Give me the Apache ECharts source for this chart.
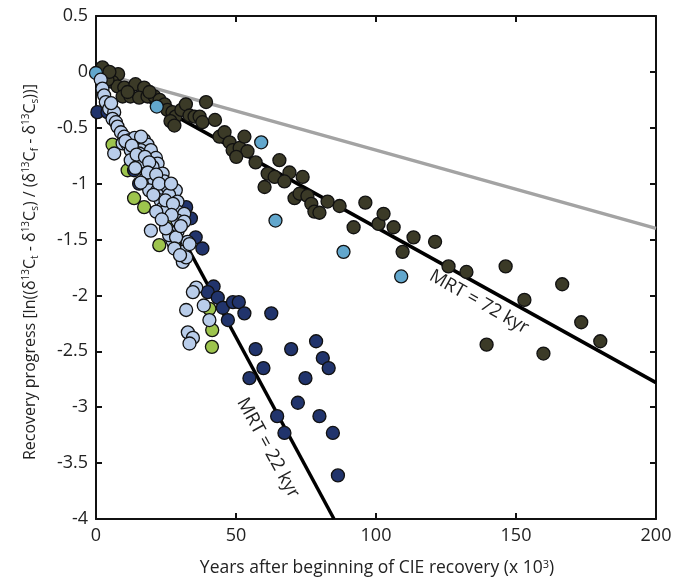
<!DOCTYPE html>
<html>
<head>
<meta charset="utf-8">
<script src="https://cdn.jsdelivr.net/npm/echarts@6/dist/echarts.min.js"></script>
<style>html,body{margin:0;padding:0;background:#fff;}#c{width:678px;height:585px;}</style>
</head>
<body>
<div id="c"></div>
<script>
// Reference lines (x in kyr, y = recovery progress)
var line143 = [[0, 0], [200, -1.40]];
var line72 = [[0, 0], [200, -2.78]];
var line22 = [[0, -0.05], [85, -4]];

// Dark olive points
var darkPts = [[2.3,0.04],[7.9,-0.02],[5.9,-0.09],[7.7,-0.13],[10.1,-0.14],[14.1,-0.11],[17.2,-0.14],
[9.5,-0.22],[12.3,-0.22],[15.4,-0.23],[18.4,-0.22],[20.9,-0.22],[22.7,-0.25],[24.5,-0.29],[25.5,-0.34],
[27.3,-0.36],[28.4,-0.40],[26.6,-0.44],[28.0,-0.48],[30.5,-0.34],[32.1,-0.29],[33.4,-0.39],[35.2,-0.40],
[37.0,-0.40],[38.0,-0.45],[39.3,-0.27],[42.5,-0.43],[44.1,-0.58],[45.9,-0.54],[47.7,-0.63],[48.8,-0.70],
[51.3,-0.68],[53.0,-0.58],[54.1,-0.71],[50.1,-0.76],[57.0,-0.81],[65.5,-0.79],[61.3,-0.91],[63.8,-0.94],
[60.2,-1.03],[69.1,-0.90],[67.3,-0.98],[73.8,-0.94],[70.9,-1.13],[72.7,-1.09],[75.5,-1.11],[76.9,-1.18],
[78.0,-1.25],[79.8,-1.26],[82.7,-1.16],[87.0,-1.20],[92.0,-1.39],[96.2,-1.17],[100.9,-1.36],[102.7,-1.27],
[106.3,-1.39],[109.5,-1.61],[113.4,-1.48],[121.1,-1.52],[125.9,-1.74],[132.3,-1.79],[146.3,-1.74],
[153.0,-2.04],[139.5,-2.44],[166.5,-1.90],[159.8,-2.52],[173.3,-2.24],[180.1,-2.41],
[4.1,-0.07],[11.3,-0.18],[19.1,-0.18],[4.8,0.0]];

// Medium blue points
var midBluePts = [[0,-0.01],[21.7,-0.31],[59.0,-0.63],[64.1,-1.33],[88.4,-1.61],[109.0,-1.83]];

// Yellow-green points
var greenPts = [[5.9,-0.65],[11.3,-0.88],[13.6,-1.13],[17.2,-1.21],[25.5,-1.37],[22.6,-1.55],[27.9,-1.54],
[40.5,-2.12],[41.5,-2.31],[41.4,-2.46]];

// Navy points
var navyPts = [[0.5,-0.36],[4.1,-0.36],[13.6,-0.88],[15.4,-1.0],[33.9,-1.31],[35.6,-1.48],[38.0,-1.58],
[32.2,-1.21],[42.0,-1.92],[39.9,-1.97],[43.5,-2.02],[45.3,-2.11],[48.9,-2.06],[51.0,-2.06],[53.0,-2.16],
[62.6,-2.16],[47.1,-2.22],[57.0,-2.48],[69.7,-2.48],[78.6,-2.41],[81.0,-2.56],[83.1,-2.65],[59.8,-2.65],
[54.8,-2.74],[74.8,-2.74],[72.1,-2.96],[64.7,-3.08],[79.8,-3.08],[67.3,-3.23],[84.6,-3.23],[86.4,-3.61]];

// Light blue points
var lightPts = [[1.7,-0.07],[2.3,-0.15],[2.9,-0.21],[3.5,-0.27],[4.7,-0.33],[6.5,-0.36],[5.9,-0.42],
[7.1,-0.45],[7.7,-0.49],[8.9,-0.54],[10.1,-0.58],[9.5,-0.64],[11.3,-0.65],[14.8,-0.59],[17.2,-0.61],
[18.4,-0.65],[13.6,-0.68],[16.0,-0.70],[19.6,-0.70],[6.5,-0.73],[12.4,-0.70],[15.4,-0.73],[21.4,-0.77],
[22.0,-0.82],[12.4,-0.79],[16.6,-0.80],[20.2,-0.85],[23.8,-0.91],[17.8,-0.95],[20.8,-0.97],[24.4,-0.98],
[19.0,-1.06],[22.0,-1.06],[25.5,-1.03],[28.5,-1.06],[23.1,-1.15],[26.1,-1.10],[29.1,-1.16],[23.8,-1.22],
[25.5,-1.22],[29.1,-1.25],[31.5,-1.27],[29.1,-1.33],[31.5,-1.34],[19.6,-1.42],[29.1,-1.43],[27.3,-1.51],
[26.1,-1.46],[32.7,-1.52],[31.0,-1.61],[31.0,-1.70],[28.6,-1.48],[32.2,-1.66],[33.4,-1.54],[35.8,-1.93],
[34.6,-1.97],[38.5,-2.09],[32.2,-2.13],[40.5,-2.22],[32.8,-2.33],[34.6,-2.38],[33.4,-2.43],
[5.4,-0.28],[12.0,-0.61],[13.8,-0.59],[16.1,-0.58],
[10.5,-0.62],[12.8,-0.66],[14.5,-0.74],[17.5,-0.76],[19.0,-0.81],[14.0,-0.86],[18.5,-0.90],[21.5,-0.92],
[16.0,-0.99],[22.5,-1.00],[26.8,-1.00],[20.5,-1.10],[24.8,-1.15],[27.5,-1.18],[21.5,-1.25],[27.0,-1.28],
[30.3,-1.38],[25.0,-1.40],[23.5,-1.32],[28.0,-1.58],[30.0,-1.64]];

var xTicks = [0, 50, 100, 150, 200];
var yTickStep = 0.5;

var FONT = '"Open Sans", "Noto Sans", sans-serif';
var chart = echarts.init(document.getElementById('c'), null, {renderer: 'canvas'});

function pts(name, data, color, z) {
  return {
    name: name, type: 'scatter', data: data, symbol: 'circle', symbolSize: 13, z: z,
    itemStyle: {color: color, borderColor: '#111', borderWidth: 1.3, opacity: 1},
    emphasis: {disabled: true}, silent: true
  };
}
function ln(data, color, width) {
  return {
    type: 'line', data: data, showSymbol: false, symbol: 'none', z: 1, silent: true,
    lineStyle: {color: color, width: width}, animation: false
  };
}
var axisCommon = {
  type: 'value',
  axisLine: {show: true, onZero: false, lineStyle: {color: '#111', width: 2}},
  axisTick: {show: true, inside: true, length: 6, lineStyle: {color: '#111', width: 2}},
  splitLine: {show: false}
};

var option = {
  animation: false,
  backgroundColor: '#fff',
  grid: {left: 96, right: 22, top: 16, bottom: 66, containLabel: false},
  xAxis: [
    Object.assign({}, axisCommon, {position: 'bottom', min: xTicks[0], max: xTicks[xTicks.length-1], interval: 50,
      axisLabel: {show: true, color: '#222', fontSize: 18, fontFamily: FONT, margin: 8}}),
    Object.assign({}, axisCommon, {position: 'top', min: xTicks[0], max: xTicks[xTicks.length-1], interval: 50,
      axisLabel: {show: false}})
  ],
  yAxis: [
    Object.assign({}, axisCommon, {position: 'left', min: -4, max: 0.5, interval: yTickStep,
      axisLabel: {show: true, color: '#222', fontSize: 18, fontFamily: FONT, margin: 8}}),
    Object.assign({}, axisCommon, {position: 'right', min: -4, max: 0.5, interval: yTickStep,
      axisLabel: {show: false}})
  ],
  series: [
    ln(line143, '#a3a3a3', 3.5),
    ln(line72, '#000', 3.5),
    ln(line22, '#000', 3.5),
    pts('dark', darkPts, '#3b3a27', 3),
    pts('midblue', midBluePts, '#62a7cd', 4),
    pts('green', greenPts, '#9dc44d', 4),
    pts('navy', navyPts, '#21346c', 5),
    pts('light', lightPts, '#b9cdea', 5)
  ],
  graphic: [
    {type: 'text', x: 30, y: 272, rotation: Math.PI/2, silent: true,
      style: {text: '{n|Recovery progress [ln((δ}{sup|13}{n|C}{sub|t}{n| - δ}{sup|13}{n|C}{sub|s}{n|) / (δ}{sup|13}{n|C}{sub|f}{n| - δ}{sup|13}{n|C}{sub|s}{n|))]}',
        align: 'center', verticalAlign: 'middle',
        rich: {
          n: {fontSize: 16, fontFamily: FONT, fill: '#222', lineHeight: 24},
          sup: {fontSize: 10, fontFamily: FONT, fill: '#222', lineHeight: 24, verticalAlign: 'top', padding: [3,0,0,0]},
          sub: {fontSize: 10, fontFamily: FONT, fill: '#222', lineHeight: 24, verticalAlign: 'bottom', padding: [0,0,2,0]}
        }}},
    {type: 'text', x: 377, y: 568, silent: true,
      style: {text: '{n|Years after beginning of CIE recovery (x 10}{sup|3}{n|)}', align: 'center', verticalAlign: 'middle',
        rich: {
          n: {fontSize: 17.5, fontFamily: FONT, fill: '#222', lineHeight: 24},
          sup: {fontSize: 11, fontFamily: FONT, fill: '#222', lineHeight: 24, verticalAlign: 'top', padding: [3,0,0,0]}
        }}},
    {type: 'text', x: 479, y: 302, rotation: -29.5 * Math.PI / 180, silent: true,
      style: {text: 'MRT = 72 kyr', align: 'center', verticalAlign: 'middle', fontSize: 18.5, fontFamily: FONT, fill: '#222'}},
    {type: 'text', x: 268, y: 448, rotation: -61.3 * Math.PI / 180, silent: true,
      style: {text: 'MRT = 22 kyr', align: 'center', verticalAlign: 'middle', fontSize: 18.5, fontFamily: FONT, fill: '#222'}}
  ]
};
chart.setOption(option);
</script>
</body>
</html>
